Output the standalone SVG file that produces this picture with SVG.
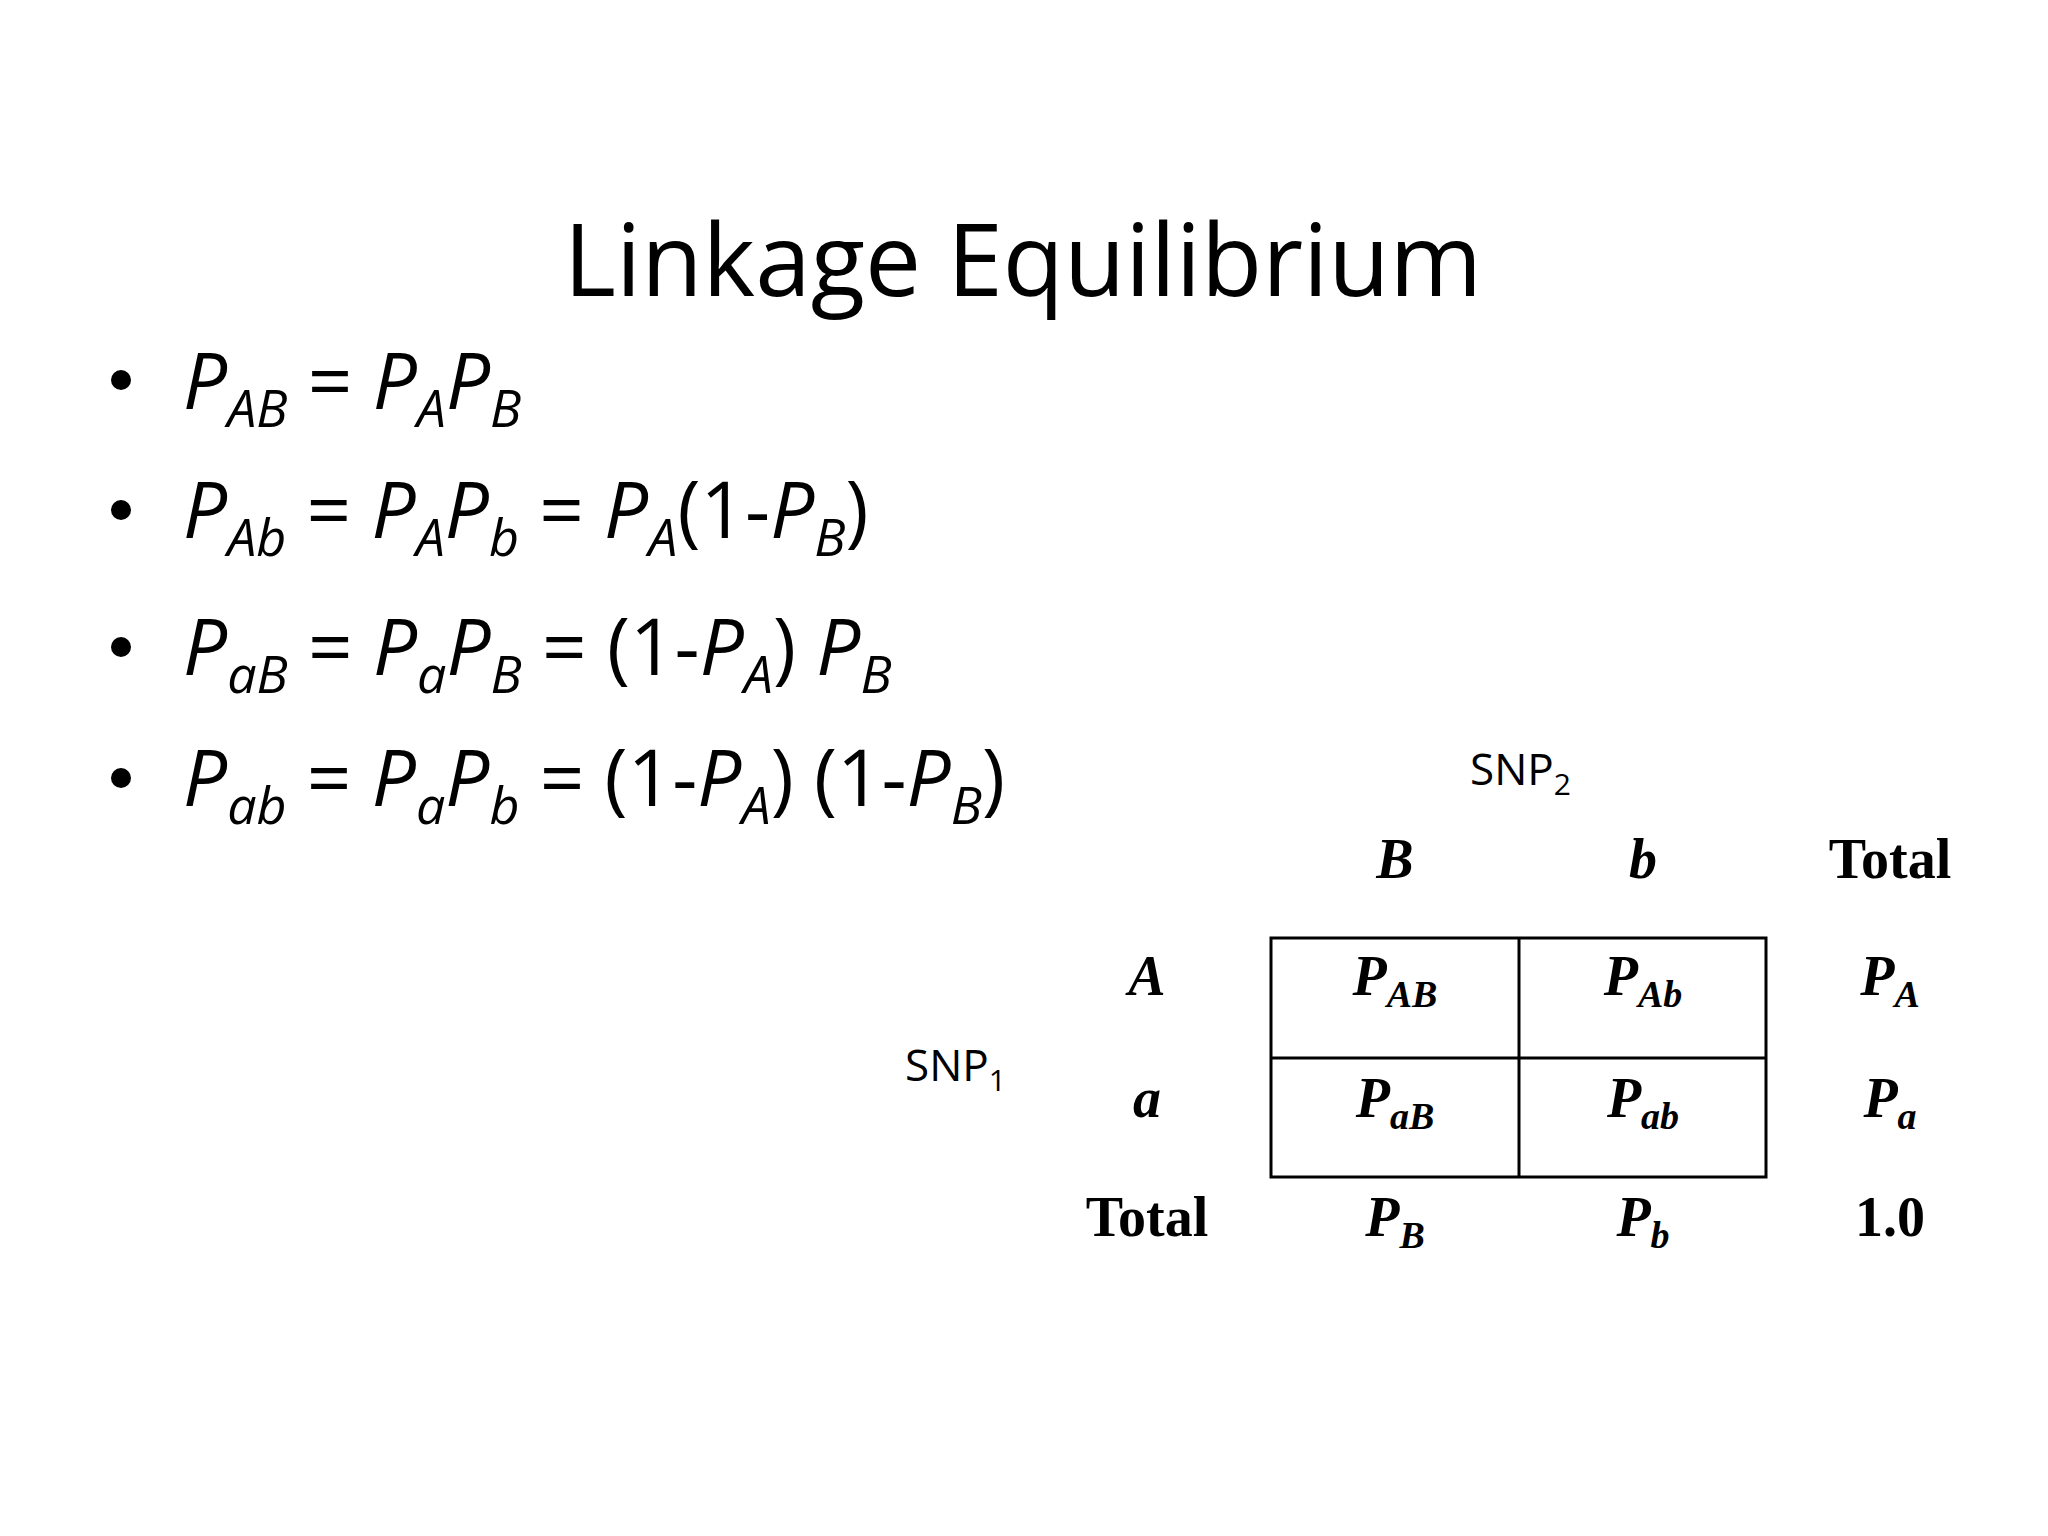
<svg xmlns="http://www.w3.org/2000/svg" width="2048" height="1536" viewBox="0 0 2048 1536">
<style>
.t{font-family:"Open Sans","Liberation Sans",sans-serif;fill:#000}
.eq{font-family:"Open Sans","Liberation Sans",sans-serif;font-size:78px;fill:#000}
.i{font-style:italic}
.s{font-size:52px}
.tb{font-family:"Liberation Serif",serif;font-weight:bold;font-size:56px;fill:#000;text-anchor:middle}
.ts{font-size:38px}
</style>
<rect width="2048" height="1536" fill="#fff"/>
<g id="title"><text class="t" x="1023" y="296" font-size="100" text-anchor="middle">Linkage Equilibrium</text></g>
<g id="bullets">
<circle cx="121" cy="380" r="10"/><circle cx="121" cy="510" r="10"/><circle cx="121" cy="647" r="10"/><circle cx="121" cy="778" r="10"/>
<text class="eq" x="183" y="409"><tspan class="i">P</tspan><tspan class="i s" dy="18">AB</tspan><tspan dy="-18"> = </tspan><tspan class="i">P</tspan><tspan class="i s" dy="18">A</tspan><tspan class="i" dy="-18">P</tspan><tspan class="i s" dy="18">B</tspan></text>
<text class="eq" x="183" y="538"><tspan class="i">P</tspan><tspan class="i s" dy="18">Ab</tspan><tspan dy="-18"> = </tspan><tspan class="i">P</tspan><tspan class="i s" dy="18">A</tspan><tspan class="i" dy="-18">P</tspan><tspan class="i s" dy="18">b</tspan><tspan dy="-18"> = </tspan><tspan class="i">P</tspan><tspan class="i s" dy="18">A</tspan><tspan dy="-18">(1-</tspan><tspan class="i">P</tspan><tspan class="i s" dy="18">B</tspan><tspan dy="-18">)</tspan></text>
<text class="eq" x="183" y="675"><tspan class="i">P</tspan><tspan class="i s" dy="18">aB</tspan><tspan dy="-18"> = </tspan><tspan class="i">P</tspan><tspan class="i s" dy="18">a</tspan><tspan class="i" dy="-18">P</tspan><tspan class="i s" dy="18">B</tspan><tspan dy="-18"> = (1-</tspan><tspan class="i">P</tspan><tspan class="i s" dy="18">A</tspan><tspan dy="-18">) </tspan><tspan class="i">P</tspan><tspan class="i s" dy="18">B</tspan></text>
<text class="eq" x="183" y="806"><tspan class="i">P</tspan><tspan class="i s" dy="18">ab</tspan><tspan dy="-18"> = </tspan><tspan class="i">P</tspan><tspan class="i s" dy="18">a</tspan><tspan class="i" dy="-18">P</tspan><tspan class="i s" dy="18">b</tspan><tspan dy="-18"> = (1-</tspan><tspan class="i">P</tspan><tspan class="i s" dy="18">A</tspan><tspan dy="-18">) (1-</tspan><tspan class="i">P</tspan><tspan class="i s" dy="18">B</tspan><tspan dy="-18">)</tspan></text>
</g>
<g id="snp-labels">
<text class="t" x="1470" y="785" font-size="44">SNP<tspan font-size="30" dy="10">2</tspan></text>
<text class="t" x="905" y="1081" font-size="44">SNP<tspan font-size="30" dy="10">1</tspan></text>
</g>
<g id="table-grid" fill="none" stroke="#000" stroke-width="3">
<rect x="1271" y="938" width="495" height="239"/>
<line x1="1519" y1="938" x2="1519" y2="1177"/>
<line x1="1271" y1="1058" x2="1766" y2="1058"/>
</g>
<g id="table-text">
<text class="tb i" x="1395" y="878">B</text>
<text class="tb i" x="1643" y="878">b</text>
<text class="tb" x="1890" y="878">Total</text>
<text class="tb i" x="1147" y="995">A</text>
<text class="tb i" x="1147" y="1117">a</text>
<text class="tb" x="1147" y="1236">Total</text>
<text class="tb i" x="1395" y="995">P<tspan class="ts" dy="12">AB</tspan></text>
<text class="tb i" x="1643" y="995">P<tspan class="ts" dy="12">Ab</tspan></text>
<text class="tb i" x="1890" y="995">P<tspan class="ts" dy="12">A</tspan></text>
<text class="tb i" x="1395" y="1117">P<tspan class="ts" dy="12">aB</tspan></text>
<text class="tb i" x="1643" y="1117">P<tspan class="ts" dy="12">ab</tspan></text>
<text class="tb i" x="1890" y="1117">P<tspan class="ts" dy="12">a</tspan></text>
<text class="tb i" x="1395" y="1236">P<tspan class="ts" dy="12">B</tspan></text>
<text class="tb i" x="1643" y="1236">P<tspan class="ts" dy="12">b</tspan></text>
<text class="tb" x="1890" y="1236">1.0</text>
</g>
</svg>
